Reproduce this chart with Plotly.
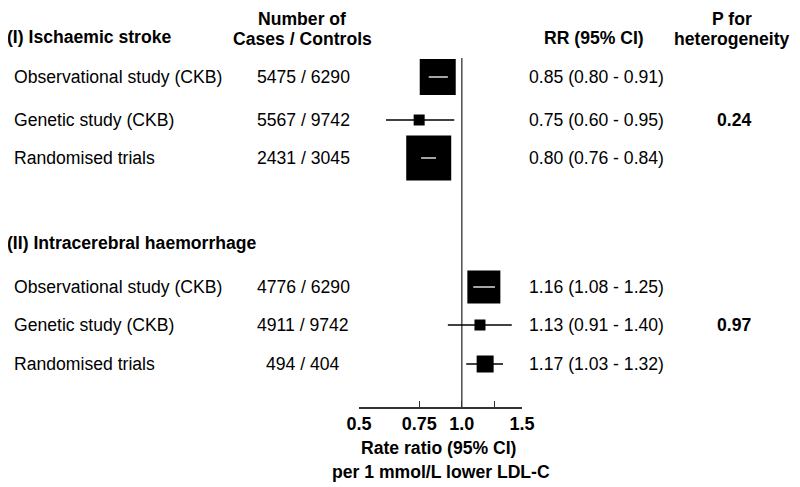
import plotly.graph_objects as go
import math

# forest plot data
labels = ["Observational study (CKB)", "Genetic study (CKB)", "Randomised trials",
          "Observational study (CKB)", "Genetic study (CKB)", "Randomised trials"]
cases = ["5475 / 6290", "5567 / 9742", "2431 / 3045",
         "4776 / 6290", "4911 / 9742", "494 / 404"]
rr = [0.85, 0.75, 0.80, 1.16, 1.13, 1.17]
lo = [0.80, 0.60, 0.76, 1.08, 0.91, 1.03]
hi = [0.91, 0.95, 0.84, 1.25, 1.40, 1.32]
p_het = ["0.24", "0.97"]
groups = ["(I) Ischaemic stroke", "(II) Intracerebral haemorrhage"]
tick_vals = [0.5, 0.75, 1.0, 1.25, 1.5]
tick_text = ["0.5", "0.75", "1.0", "", "1.5"]

# row layout (pixels from top of the picture)
row_y = [77, 120, 158, 287, 325, 364]
group_y = [37, 243]
p_y = [120, 325]
box_size = [36, 11, 45, 33, 11, 17]
ci_in_box = [True, False, True, True, False, False]

W, H = 800, 487
OFF = 8          # page body margin that shifts the figure
axis_y = 407
FONT = "Liberation Sans, Arial, sans-serif"
REG, BOLD = 17.6, 17.6

fig = go.Figure()

# CI lines
fig.add_trace(go.Scatter(
    x=rr, y=row_y, mode="markers",
    marker=dict(size=0.1, color="black"),
    error_x=dict(type="data", symmetric=False,
                 array=[h - r for h, r in zip(hi, rr)],
                 arrayminus=[r - l for r, l in zip(rr, lo)],
                 width=0, thickness=1.3, color="black"),
    hoverinfo="skip", showlegend=False))

# boxes
fig.add_trace(go.Scatter(
    x=rr, y=row_y, mode="markers",
    marker=dict(symbol="square", size=box_size, color="#000000", opacity=1,
                line=dict(width=0)),
    hoverinfo="skip", showlegend=False))

# white CI segment inside the big boxes
wi = [i for i in range(len(rr)) if ci_in_box[i]]
fig.add_trace(go.Scatter(
    x=[rr[i] for i in wi], y=[row_y[i] for i in wi], mode="markers",
    marker=dict(size=0.1, color="white"),
    error_x=dict(type="data", symmetric=False,
                 array=[hi[i] - rr[i] for i in wi],
                 arrayminus=[rr[i] - lo[i] for i in wi],
                 width=0, thickness=1.3, color="white"),
    hoverinfo="skip", showlegend=False))

# line of no effect
fig.add_shape(type="line", xref="x", yref="y", x0=1, x1=1, y0=58, y1=axis_y,
              line=dict(color="#333", width=1.3), layer="below")

ann = []
def txt(x, y, s, anchor="left", bold=False):
    ann.append(dict(xref="paper", yref="paper", x=(x - OFF) / W, y=1 - (y - OFF) / H,
                    text=("<b>%s</b>" % s) if bold else s,
                    showarrow=False, xanchor=anchor, yanchor="middle",
                    font=dict(family=FONT, size=BOLD if bold else REG, color="black")))

# column headers
txt(302, 19, "Number of", "center", True)
txt(302, 39, "Cases / Controls", "center", True)
txt(594, 38, "RR (95% CI)", "center", True)
txt(732, 19, "P for", "center", True)
txt(732, 39, "heterogeneity", "center", True)
for g, y in zip(groups, group_y):
    txt(5, y, g, "left", True)
for i in range(len(labels)):
    txt(12, row_y[i], labels[i])
    txt(303, row_y[i], cases[i], "center")
    txt(527, row_y[i], "%.2f (%.2f - %.2f)" % (rr[i], lo[i], hi[i]))
for p, y in zip(p_het, p_y):
    txt(734, y, p, "center", True)

# axis title
txt(438, 448, "Rate ratio (95% CI)", "center", True)
txt(441, 472, "per 1 mmol/L lower LDL-C", "center", True)

fig.update_layout(
    width=W, height=H,
    margin=dict(l=0, r=0, t=0, b=0, pad=0, autoexpand=False),
    autosize=False,
    paper_bgcolor="white", plot_bgcolor="white",
    annotations=ann,
    xaxis=dict(type="log", range=[math.log10(0.5), math.log10(1.5)],
               domain=[(359 - OFF) / W, (522 - OFF) / W],
               tickvals=tick_vals, ticktext=["<b>%s</b>" % t for t in tick_text],
               ticks="inside", ticklen=6, tickwidth=1.3, tickcolor="#333",
               showline=True, linecolor="#333", linewidth=1.5,
               showgrid=False, zeroline=False,
               tickfont=dict(family=FONT, size=18, color="black"),
               anchor="y"),
    yaxis=dict(range=[axis_y, OFF], domain=[1 - (axis_y - OFF) / H, 1],
               visible=False, showgrid=False, zeroline=False),
)

fig.write_html("out.html")
